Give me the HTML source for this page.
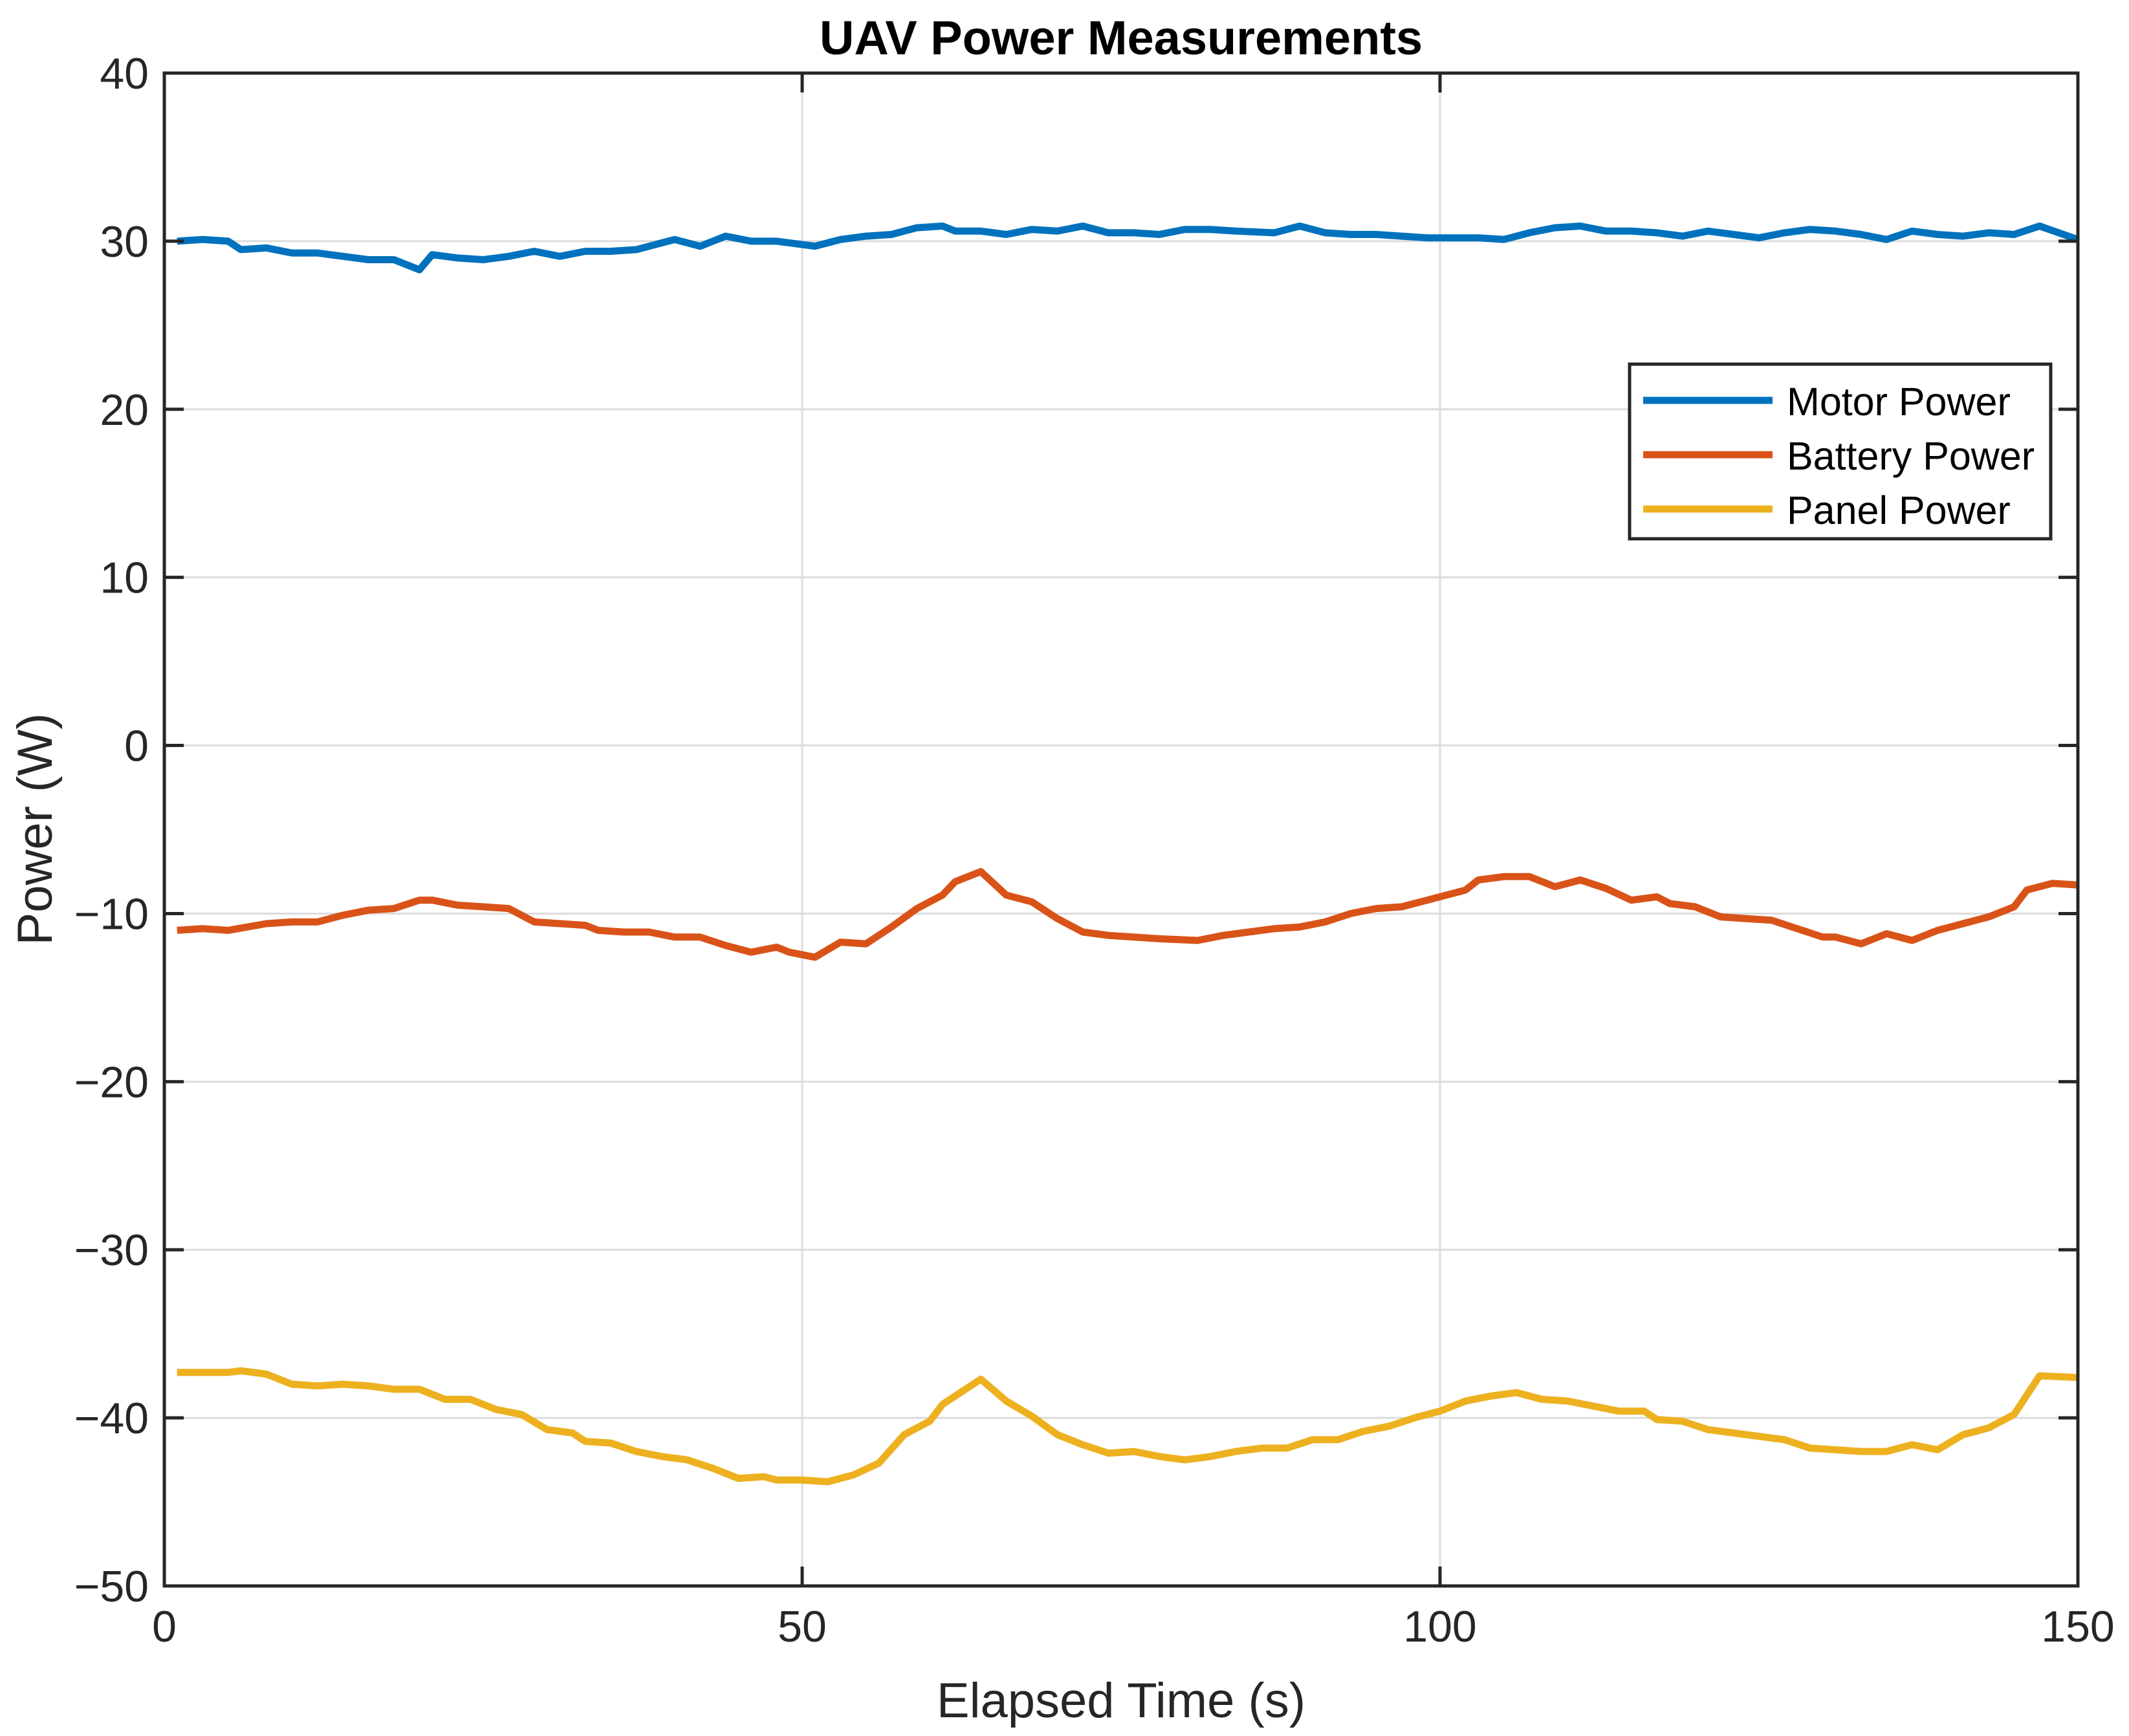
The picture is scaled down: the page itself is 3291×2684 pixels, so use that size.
<!DOCTYPE html>
<html><head><meta charset="utf-8"><style>
html,body{margin:0;padding:0;background:#fff}
svg{display:block;font-family:"Liberation Sans",Arial,sans-serif}
</style></head><body>
<svg id="chart" width="3291" height="2684" viewBox="0 0 3291 2684" xmlns="http://www.w3.org/2000/svg">
<rect width="3291" height="2684" fill="#fff"/>
<g id="grid"></g>
<g id="series"></g>
<g id="axes"></g>
<text x="1733" y="84" font-size="74" font-weight="bold" text-anchor="middle" fill="#000">UAV Power Measurements</text>
<text x="1733" y="2655" font-size="76" text-anchor="middle" fill="#262626">Elapsed Time (s)</text>
<text transform="translate(80,1282) rotate(-90)" font-size="76" text-anchor="middle" fill="#262626">Power (W)</text>
<g>
<rect x="2519" y="563" width="651" height="270" fill="#fff" stroke="#262626" stroke-width="5"/>
<line x1="2540" y1="619" x2="2740" y2="619" stroke="#0072BD" stroke-width="11"/>
<text x="2762" y="642" font-size="61" fill="#000">Motor Power</text>
<line x1="2540" y1="703" x2="2740" y2="703" stroke="#D95319" stroke-width="11"/>
<text x="2762" y="726" font-size="61" fill="#000">Battery Power</text>
<line x1="2540" y1="787" x2="2740" y2="787" stroke="#EDB120" stroke-width="11"/>
<text x="2762" y="810" font-size="61" fill="#000">Panel Power</text>
</g>
</svg>
<script>
const xTicks=[0,50,100,150];
const yTicks=[40,30,20,10,0,-10,-20,-30,-40,-50];
const yTickLabels=["40","30","20","10","0","\u221210","\u221220","\u221230","\u221240","\u221250"];
const motorT=[1,3,5,6,8,10,12,14,16,18,20,21,23,25,27,29,31,33,35,37,40,42,44,46,48,51,53,55,57,59,61,62,64,66,68,70,72,74,76,78,80,82,84,87,89,91,93,95,97,99,101,103,105,107,109,111,113,115,117,119,121,123,125,127,129,131,133,135,137,139,141,143,145,147,150];
const motorP=[30.0,30.1,30.0,29.5,29.6,29.3,29.3,29.1,28.9,28.9,28.3,29.2,29.0,28.9,29.1,29.4,29.1,29.4,29.4,29.5,30.1,29.7,30.3,30.0,30.0,29.7,30.1,30.3,30.4,30.8,30.9,30.6,30.6,30.4,30.7,30.6,30.9,30.5,30.5,30.4,30.7,30.7,30.6,30.5,30.9,30.5,30.4,30.4,30.3,30.2,30.2,30.2,30.1,30.5,30.8,30.9,30.6,30.6,30.5,30.3,30.6,30.4,30.2,30.5,30.7,30.6,30.4,30.1,30.6,30.4,30.3,30.5,30.4,30.9,30.1];
const batteryT=[1,3,5,8,10,12,14,16,18,20,21,23,25,27,29,31,33,34,36,38,40,42,44,46,48,49,51,53,55,57,59,61,62,64,66,68,70,72,74,76,78,81,83,85,87,89,91,93,95,97,99,101,102,103,105,107,109,111,113,115,117,118,120,122,124,126,128,130,131,133,135,137,139,141,143,145,146,148,150];
const batteryP=[-11.0,-10.9,-11.0,-10.6,-10.5,-10.5,-10.1,-9.8,-9.7,-9.2,-9.2,-9.5,-9.6,-9.7,-10.5,-10.6,-10.7,-11.0,-11.1,-11.1,-11.4,-11.4,-11.9,-12.3,-12.0,-12.3,-12.6,-11.7,-11.8,-10.8,-9.7,-8.9,-8.1,-7.5,-8.9,-9.3,-10.3,-11.1,-11.3,-11.4,-11.5,-11.6,-11.3,-11.1,-10.9,-10.8,-10.5,-10.0,-9.7,-9.6,-9.2,-8.8,-8.6,-8.0,-7.8,-7.8,-8.4,-8.0,-8.5,-9.2,-9.0,-9.4,-9.6,-10.2,-10.3,-10.4,-10.9,-11.4,-11.4,-11.8,-11.2,-11.6,-11.0,-10.6,-10.2,-9.6,-8.6,-8.2,-8.3];
const panelT=[1,3,5,6,8,10,12,14,16,18,20,22,24,26,28,30,32,33,35,37,39,41,43,45,47,48,50,52,54,56,58,60,61,64,66,68,70,72,74,76,78,80,82,84,86,88,90,92,94,96,98,100,102,104,106,108,110,112,114,116,117,119,121,123,125,127,129,131,133,135,137,139,141,143,145,147,150];
const panelP=[-37.3,-37.3,-37.3,-37.2,-37.4,-38.0,-38.1,-38.0,-38.1,-38.3,-38.3,-38.9,-38.9,-39.5,-39.8,-40.7,-40.9,-41.4,-41.5,-42.0,-42.3,-42.5,-43.0,-43.6,-43.5,-43.7,-43.7,-43.8,-43.4,-42.7,-41.0,-40.2,-39.2,-37.7,-39.0,-39.9,-41.0,-41.6,-42.1,-42.0,-42.3,-42.5,-42.3,-42.0,-41.8,-41.8,-41.3,-41.3,-40.8,-40.5,-40.0,-39.6,-39.0,-38.7,-38.5,-38.9,-39.0,-39.3,-39.6,-39.6,-40.1,-40.2,-40.7,-40.9,-41.1,-41.3,-41.8,-41.9,-42.0,-42.0,-41.6,-41.9,-41.0,-40.6,-39.8,-37.5,-37.6];

const L=254,R=3212,T=113,B=2452;
const X=v=>L+(v-0)/150*(R-L);
const Y=v=>T+(40-v)/90*(B-T);
const NS="http://www.w3.org/2000/svg";
function mk(parent,tag,attrs){const e=document.createElementNS(NS,tag);for(const k in attrs)e.setAttribute(k,attrs[k]);parent.appendChild(e);return e;}
const grid=document.getElementById('grid'),axes=document.getElementById('axes'),series=document.getElementById('series');
xTicks.forEach(t=>{
  if(t>0&&t<150){const g=mk(grid,'line',{x1:X(t),x2:X(t),y1:T,y2:B,stroke:'#dcdcdc','stroke-width':3});
  
  }
  [[B,B-30],[T,T+30]].forEach(p=>{const k=mk(axes,'line',{x1:X(t),x2:X(t),y1:p[0],y2:p[1],stroke:'#262626','stroke-width':5});
  
  });
  const tx=mk(axes,'text',{x:X(t),y:B+86,'font-size':68,'text-anchor':'middle',fill:'#262626'});
  
  
  tx.textContent=String(t);
});
yTicks.forEach((v,i)=>{
  if(v<40&&v>-50){const g=mk(grid,'line',{x1:L,x2:R,y1:Y(v),y2:Y(v),stroke:'#dcdcdc','stroke-width':3});
  
  }
  [[L,L+30],[R,R-30]].forEach(p=>{const k=mk(axes,'line',{x1:p[0],x2:p[1],y1:Y(v),y2:Y(v),stroke:'#262626','stroke-width':5});
  
  });
  const tx=mk(axes,'text',{x:L-24,y:Y(v)+24,'font-size':68,'text-anchor':'end',fill:'#262626'});
  
  
  tx.textContent=yTickLabels[i];
});
const fr=mk(axes,'rect',{x:L,y:T,width:R-L,height:B-T,fill:'none',stroke:'#262626','stroke-width':5});


function line(ts,ps,color,name){
  const d=ts.map((t,i)=>(i?'L':'M')+X(t).toFixed(1)+','+Y(ps[i]).toFixed(1)).join(' ');
  const p=mk(series,'path',{d:d,fill:'none',stroke:color,'stroke-width':11,'stroke-linejoin':'round'});
  
  
}
line(motorT,motorP,'#0072BD','motor-power-line');
line(batteryT,batteryP,'#D95319','battery-power-line');
line(panelT,panelP,'#EDB120','panel-power-line');
</script>
</body></html>
